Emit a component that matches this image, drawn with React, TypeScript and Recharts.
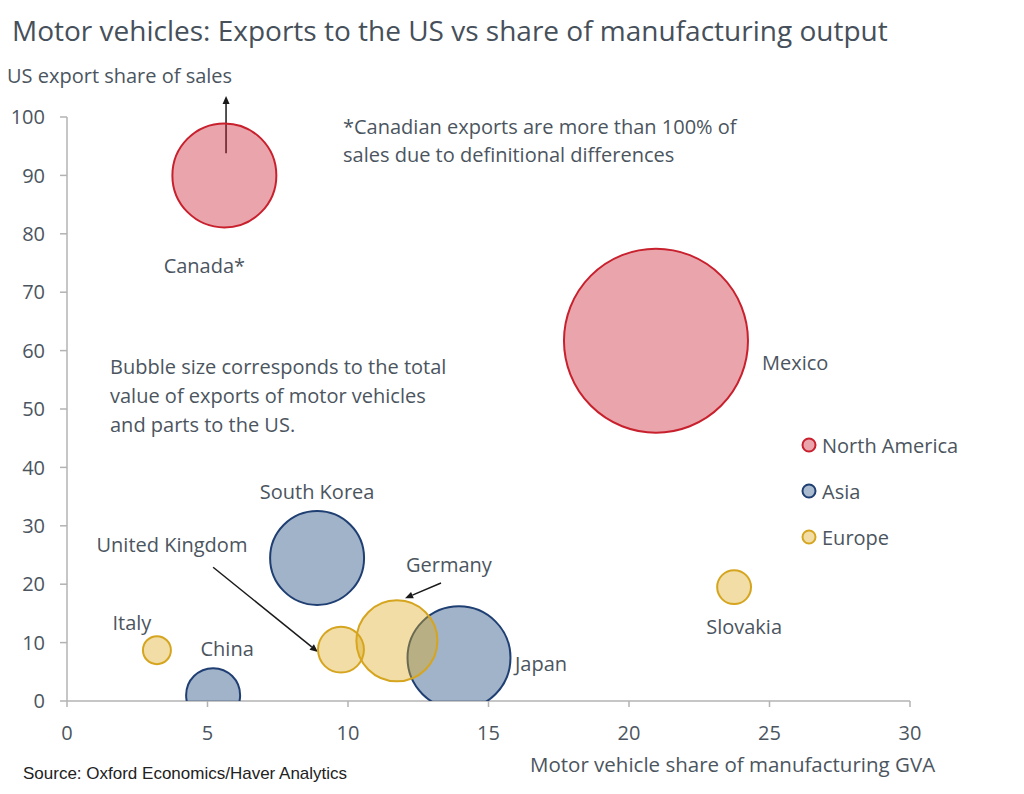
import React from 'react';
import { ScatterChart, Scatter, XAxis, YAxis, ZAxis, ReferenceLine, LabelList } from 'recharts';

// x: motor vehicle share of manufacturing GVA (%), y: US export share of sales (%), value: exports to the US ($bn)
const northAmerica = [
  { name: 'Canada', gva: 5.6, exportShare: 90.0, value: 41.5 },
  { name: 'Mexico', gva: 20.96, exportShare: 61.7, value: 130 },
];
const asia = [
  { name: 'South Korea', gva: 8.9, exportShare: 24.5, value: 33.9 },
  { name: 'Japan', gva: 13.95, exportShare: 7.4, value: 40.7 },
  { name: 'China', gva: 5.2, exportShare: 1.0, value: 11.2 },
];
const europe = [
  { name: 'Germany', gva: 11.74, exportShare: 10.3, value: 25.2 },
  { name: 'United Kingdom', gva: 9.75, exportShare: 8.8, value: 8.1 },
  { name: 'Italy', gva: 3.2, exportShare: 8.7, value: 3.0 },
  { name: 'Slovakia', gva: 23.74, exportShare: 19.5, value: 4.4 },
];

const xTicks = [0, 5, 10, 15, 20, 25, 30];
const yTicks = [0, 10, 20, 30, 40, 50, 60, 70, 80, 90, 100];

const FONT = '"Open Sans", "Noto Sans", sans-serif';
const TEXT = '#4b5560';
const AXIS = '#b3b3b3';

const colors = {
  'North America': { fill: '#c81e2d', stroke: '#c8202d' },
  Asia: { fill: '#2e5688', stroke: '#1f3f73' },
  Europe: { fill: '#dcaa1e', stroke: '#d6a520' },
};

// where each bubble's name sits, relative to the bubble centre
const labelPlacement: Record<string, { dx: number; dy: number; anchor: 'start' | 'middle' | 'end'; text?: string }> = {
  Canada: { dx: -20, dy: 90, anchor: 'middle', text: 'Canada*' },
  Mexico: { dx: 106, dy: 22, anchor: 'start' },
  'South Korea': { dx: 0, dy: -66, anchor: 'middle' },
  Japan: { dx: 56, dy: 6, anchor: 'start' },
  China: { dx: 14, dy: -47, anchor: 'middle' },
  Germany: { dx: 52, dy: -76, anchor: 'middle' },
  'United Kingdom': { dx: -169, dy: -105, anchor: 'middle' },
  Italy: { dx: -25, dy: -28, anchor: 'middle' },
  Slovakia: { dx: 10, dy: 39, anchor: 'middle' },
};

const renderLabel = (props: any) => {
  const vb = props.viewBox || props;
  const cx = vb.x + vb.width / 2;
  const cy = vb.y + vb.height / 2;
  const p = labelPlacement[props.value];
  if (!p) return null;
  return (
    <text
      x={cx + p.dx}
      y={cy + p.dy}
      textAnchor={p.anchor}
      dominantBaseline="central"
      fontSize={20}
      fontFamily={FONT}
      fill={TEXT}
    >
      {p.text ?? props.value}
    </text>
  );
};

const ArrowLine = (p: any) => {
  const { x1, y1, x2, y2 } = p;
  const ang = Math.atan2(y2 - y1, x2 - x1);
  const L = 8;
  const W = 3.5;
  const bx = x2 - L * Math.cos(ang);
  const by = y2 - L * Math.sin(ang);
  const pts = `${x2},${y2} ${bx + W * Math.sin(ang)},${by - W * Math.cos(ang)} ${bx - W * Math.sin(ang)},${by + W * Math.cos(ang)}`;
  return (
    <g>
      <line x1={x1} y1={y1} x2={bx} y2={by} stroke="#1a1a1a" strokeWidth={1.5} />
      <polygon points={pts} fill="#1a1a1a" />
    </g>
  );
};

const tickStyle = { fontSize: 20, fill: TEXT, fontFamily: FONT };

export default function App() {
  return (
    <div style={{ position: 'absolute', left: 0, top: 0, width: 1024, height: 794, background: '#fff', fontFamily: FONT, color: TEXT }}>
      <div style={{ position: 'absolute', left: 12, top: 11, fontSize: 28, whiteSpace: 'nowrap', color: '#46505a' }}>
        Motor vehicles: Exports to the US vs share of manufacturing output
      </div>
      <div style={{ position: 'absolute', left: 7, top: 62, fontSize: 20, whiteSpace: 'nowrap' }}>US export share of sales</div>

      <ScatterChart width={1024} height={794} margin={{ top: 117, right: 114, bottom: 43, left: 7 }}>
        <XAxis
          type="number"
          dataKey="gva"
          domain={[0, 30]}
          ticks={xTicks}
          allowDataOverflow
          stroke={AXIS}
          strokeWidth={1.5}
          tickSize={6}
          tickMargin={19}
          tick={tickStyle}
          height={50}
        />
        <YAxis
          type="number"
          dataKey="exportShare"
          domain={[0, 100]}
          ticks={yTicks}
          allowDataOverflow
          stroke={AXIS}
          strokeWidth={1.5}
          tickSize={7}
          tickMargin={15}
          tick={tickStyle}
          width={60}
        />
        <ZAxis type="number" dataKey="value" domain={[0, 130]} range={[0, Math.PI * 92 * 92]} />
        <Scatter
          name="North America"
          data={northAmerica}
          fill={colors['North America'].fill}
          fillOpacity={0.4}
          stroke={colors['North America'].stroke}
          strokeWidth={2}
          isAnimationActive={false}
        >
          <LabelList dataKey="name" content={renderLabel} />
        </Scatter>
        <Scatter
          name="Asia"
          data={asia}
          fill={colors.Asia.fill}
          fillOpacity={0.45}
          stroke={colors.Asia.stroke}
          strokeWidth={2}
          isAnimationActive={false}
        >
          <LabelList dataKey="name" content={renderLabel} />
        </Scatter>
        <Scatter
          name="Europe"
          data={europe}
          fill={colors.Europe.fill}
          fillOpacity={0.4}
          stroke={colors.Europe.stroke}
          strokeWidth={2}
          isAnimationActive={false}
        >
          <LabelList dataKey="name" content={renderLabel} />
        </Scatter>
        <ReferenceLine segment={[{ x: 5.66, y: 93.8 }, { x: 5.66, y: 103.6 }]} ifOverflow="visible" shape={ArrowLine} />
        <ReferenceLine segment={[{ x: 5.2, y: 22.9 }, { x: 8.93, y: 8.4 }]} ifOverflow="visible" shape={ArrowLine} />
        <ReferenceLine segment={[{ x: 13.31, y: 20.2 }, { x: 12.03, y: 17.6 }]} ifOverflow="visible" shape={ArrowLine} />
      </ScatterChart>

      <div style={{ position: 'absolute', left: 343, top: 113, fontSize: 20, lineHeight: '28px', whiteSpace: 'nowrap' }}>
        *Canadian exports are more than 100% of
        <br />
        sales due to definitional differences
      </div>
      <div style={{ position: 'absolute', left: 110, top: 352, fontSize: 20, lineHeight: '29px', whiteSpace: 'nowrap' }}>
        Bubble size corresponds to the total
        <br />
        value of exports of motor vehicles
        <br />
        and parts to the US.
      </div>

      {(['North America', 'Asia', 'Europe'] as const).map((name, i) => (
        <div key={name} style={{ position: 'absolute', left: 801, top: 431 + i * 46, height: 28, display: 'flex', alignItems: 'center', fontSize: 20 }}>
          <svg width={16} height={16} style={{ marginRight: 5 }}>
            <circle cx={8} cy={8} r={6.5} fill={colors[name].fill} fillOpacity={0.4} stroke={colors[name].stroke} strokeWidth={2} />
          </svg>
          {name}
        </div>
      ))}

      <div style={{ position: 'absolute', left: 530, top: 750, fontSize: 20.5, whiteSpace: 'nowrap' }}>Motor vehicle share of manufacturing GVA</div>
      <div style={{ position: 'absolute', left: 23, top: 764, fontSize: 17, fontFamily: '"Liberation Sans", Arial, sans-serif', color: '#222', whiteSpace: 'nowrap' }}>
        Source: Oxford Economics/Haver Analytics
      </div>
    </div>
  );
}
